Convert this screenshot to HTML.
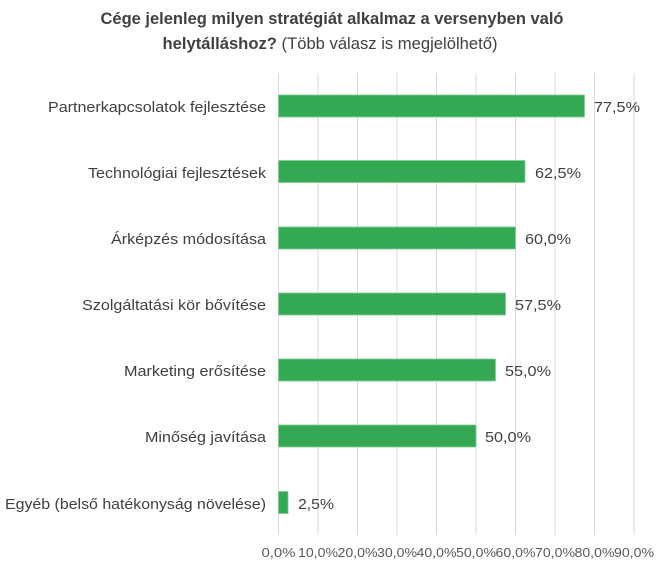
<!DOCTYPE html>
<html><head><meta charset="utf-8"><style>
body{margin:0;background:#fff;}
svg{display:block;font-family:"Liberation Sans",sans-serif;}
</style></head><body>
<svg width="666" height="565" xmlns="http://www.w3.org/2000/svg">
<rect width="666" height="565" fill="#fff"/>
<text x="332" y="24" text-anchor="middle" font-size="16.5" font-weight="bold" fill="#404040" textLength="463" lengthAdjust="spacingAndGlyphs">Cége jelenleg milyen stratégiát alkalmaz a versenyben való</text>
<text x="330" y="49" text-anchor="middle" font-size="16.5" fill="#404040" textLength="335" lengthAdjust="spacingAndGlyphs"><tspan font-weight="bold">helytálláshoz?</tspan> (Több válasz is megjelölhető)</text>
<g stroke="#d9d9d9" stroke-width="1">
<line x1="278.5" y1="73" x2="278.5" y2="535"/><line x1="318" y1="73" x2="318" y2="535"/><line x1="357.5" y1="73" x2="357.5" y2="535"/><line x1="397" y1="73" x2="397" y2="535"/><line x1="436.5" y1="73" x2="436.5" y2="535"/><line x1="476" y1="73" x2="476" y2="535"/><line x1="515.5" y1="73" x2="515.5" y2="535"/><line x1="555" y1="73" x2="555" y2="535"/><line x1="594.5" y1="73" x2="594.5" y2="535"/><line x1="634" y1="73" x2="634" y2="535"/>
</g>
<g fill="#34a853" stroke="#7fcf95" stroke-width="0.8">
<rect x="278.5" y="95" width="306" height="22"/>
<rect x="278.5" y="160.5" width="246.5" height="22"/>
<rect x="278.5" y="227" width="237" height="22"/>
<rect x="278.5" y="293" width="227" height="22"/>
<rect x="278.5" y="359" width="217" height="22"/>
<rect x="278.5" y="425" width="197.5" height="22"/>
<rect x="278.5" y="491.5" width="9.5" height="22"/>
</g>
<g font-size="15" fill="#404040">
<text x="594" y="112" textLength="46" lengthAdjust="spacingAndGlyphs">77,5%</text>
<text x="535" y="178" textLength="46" lengthAdjust="spacingAndGlyphs">62,5%</text>
<text x="525" y="244" textLength="46" lengthAdjust="spacingAndGlyphs">60,0%</text>
<text x="515" y="310" textLength="46" lengthAdjust="spacingAndGlyphs">57,5%</text>
<text x="505" y="376" textLength="46" lengthAdjust="spacingAndGlyphs">55,0%</text>
<text x="485" y="442" textLength="46" lengthAdjust="spacingAndGlyphs">50,0%</text>
<text x="298" y="509" textLength="36" lengthAdjust="spacingAndGlyphs">2,5%</text>
</g>
<g font-size="15" fill="#404040" text-anchor="end">
<text x="266" y="112" textLength="218" lengthAdjust="spacingAndGlyphs">Partnerkapcsolatok fejlesztése</text>
<text x="266" y="178" textLength="178" lengthAdjust="spacingAndGlyphs">Technológiai fejlesztések</text>
<text x="266" y="244" textLength="155" lengthAdjust="spacingAndGlyphs">Árképzés módosítása</text>
<text x="266" y="310" textLength="184" lengthAdjust="spacingAndGlyphs">Szolgáltatási kör bővítése</text>
<text x="266" y="376" textLength="142" lengthAdjust="spacingAndGlyphs">Marketing erősítése</text>
<text x="266" y="442" textLength="121" lengthAdjust="spacingAndGlyphs">Minőség javítása</text>
<text x="266" y="509" textLength="261" lengthAdjust="spacingAndGlyphs">Egyéb (belső hatékonyság növelése)</text>
</g>
<g font-size="13" fill="#595959" text-anchor="middle">
<text x="278.5" y="557" textLength="34" lengthAdjust="spacingAndGlyphs">0,0%</text>
<text x="318" y="557" textLength="40" lengthAdjust="spacingAndGlyphs">10,0%</text>
<text x="357.5" y="557" textLength="40" lengthAdjust="spacingAndGlyphs">20,0%</text>
<text x="397" y="557" textLength="40" lengthAdjust="spacingAndGlyphs">30,0%</text>
<text x="436.5" y="557" textLength="40" lengthAdjust="spacingAndGlyphs">40,0%</text>
<text x="476" y="557" textLength="40" lengthAdjust="spacingAndGlyphs">50,0%</text>
<text x="515.5" y="557" textLength="40" lengthAdjust="spacingAndGlyphs">60,0%</text>
<text x="555" y="557" textLength="40" lengthAdjust="spacingAndGlyphs">70,0%</text>
<text x="594.5" y="557" textLength="40" lengthAdjust="spacingAndGlyphs">80,0%</text>
<text x="634" y="557" textLength="40" lengthAdjust="spacingAndGlyphs">90,0%</text>
</g>
</svg>
</body></html>
